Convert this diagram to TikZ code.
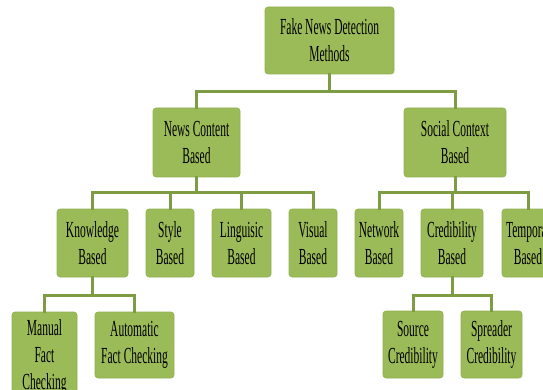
\documentclass[tikz,border=0pt]{standalone}
\usepackage{fontspec}
\newfontfamily\boxfont{Liberation Serif}[FakeStretch=0.5]
\definecolor{boxgreen}{RGB}{155,187,89}
\definecolor{linegreen}{RGB}{126,156,68}
\definecolor{edgegreen}{RGB}{145,177,82}
\tikzset{
  box/.style={fill=boxgreen, draw=edgegreen, line width=0.6pt, rounded corners=3pt,
    inner sep=0pt, align=center, text=black,
    font=\boxfont\fontsize{23}{27}\selectfont},
  conn/.style={draw=linegreen, line width=3pt, line join=miter, line cap=rect}
}
\begin{document}
\begin{tikzpicture}[x=1pt,y=-1pt]
\useasboundingbox (0,0) rectangle (543,390);
\clip (0,0) rectangle (543,390);
% nodes
\node[box, minimum width=129pt, minimum height=67pt] (top) at (329.5,40.5) {Fake News Detection\\Methods};
\node[box, minimum width=87pt, minimum height=69pt] (nc) at (196.5,142.5) {News Content\\Based};
\node[box, minimum width=102pt, minimum height=69pt] (sc) at (455,142.5) {Social Context\\Based};
\node[box, minimum width=71pt, minimum height=68pt] (kb) at (92.5,243) {Knowledge\\Based};
\node[box, minimum width=48pt, minimum height=68pt] (sty) at (170,243) {Style\\Based};
\node[box, minimum width=59pt, minimum height=68pt] (ling) at (241.5,243) {Linguisic\\Based};
\node[box, minimum width=48pt, minimum height=68pt] (vis) at (313,243) {Visual\\Based};
\node[box, minimum width=48pt, minimum height=68pt] (net) at (379,243) {Network\\Based};
\node[box, minimum width=62pt, minimum height=68pt] (cred) at (452,243) {Credibility\\Based};
\node[box, minimum width=52pt, minimum height=68pt] (temp) at (528,243) {Temporal\\Based};
\node[box, minimum width=65pt, minimum height=90pt] (man) at (44.5,357) {Manual\\Fact\\Checking};
\node[box, minimum width=79pt, minimum height=66pt] (auto) at (134.5,345) {Automatic\\Fact Checking};
\node[box, minimum width=60pt, minimum height=67pt] (src) at (413,344.5) {Source\\Credibility};
\node[box, minimum width=61pt, minimum height=67pt] (spr) at (491.5,344.5) {Spreader\\Credibility};
% bus levels
\coordinate (b1) at (0,92);
\coordinate (b2) at (0,193);
\coordinate (b3) at (0,295);
% connectors
\draw[conn] (top.south) -- (top.south |- b1);
\draw[conn] (nc.north) |- (sc.north |- b1) -- (sc.north);
\draw[conn] (nc.south) -- (nc.south |- b2);
\draw[conn] (kb.north) |- (vis.north |- b2) -- (vis.north);
\draw[conn] (sty.north) -- (sty.north |- b2);
\draw[conn] (ling.north) -- (ling.north |- b2);
\draw[conn] (sc.south) -- (sc.south |- b2);
\draw[conn] (net.north) |- (temp.north |- b2) -- (temp.north);
\draw[conn] (cred.north) -- (cred.north |- b2);
\draw[conn] (kb.south) -- (kb.south |- b3);
\draw[conn] (man.north) |- (auto.north |- b3) -- (auto.north);
\draw[conn] (cred.south) -- (cred.south |- b3);
\draw[conn] (src.north) |- (spr.north |- b3) -- (spr.north);
\end{tikzpicture}
\end{document}
